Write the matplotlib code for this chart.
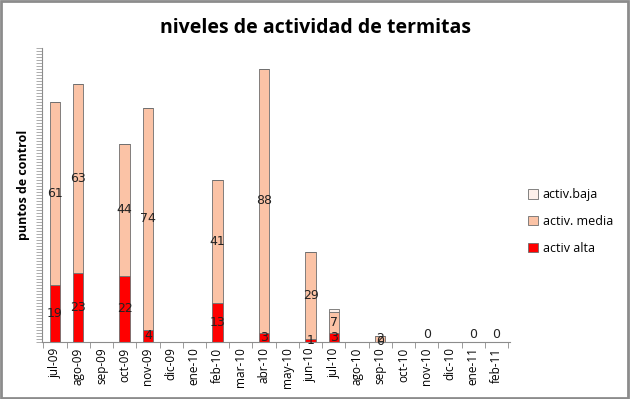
import numpy as np
import matplotlib
matplotlib.use("Agg")
import matplotlib.pyplot as plt
from matplotlib.patches import Rectangle

meses = ['jul-09', 'ago-09', 'sep-09', 'oct-09', 'nov-09', 'dic-09', 'ene-10',
         'feb-10', 'mar-10', 'abr-10', 'may-10', 'jun-10', 'jul-10', 'ago-10',
         'sep-10', 'oct-10', 'nov-10', 'dic-10', 'ene-11', 'feb-11']
nan = np.nan
alta = [19, 23, nan, 22, 4, nan, nan, 13, nan, 3, nan, 1, 3, nan,
        0, nan, nan, nan, nan, nan]
media = [61, 63, nan, 44, 74, nan, nan, 41, nan, 88, nan, 29, 7, nan,
         2, nan, nan, nan, nan, nan]
baja = [nan, nan, nan, nan, nan, nan, nan, nan, nan, nan, nan, nan, 1, nan,
        nan, nan, 0, nan, 0, 0]

plt.rcParams['font.family'] = ['Open Sans', 'DejaVu Sans']

fig = plt.figure(figsize=(6.3, 3.99), dpi=100)
ax = fig.add_axes([0.067, 0.143, 0.743, 0.737])

x = np.arange(len(meses))
a = np.nan_to_num(alta)
m = np.nan_to_num(media)
b = np.nan_to_num(baja)
w = 0.45
ec = '#6e6e6e'
b1 = ax.bar(x, a, w, color='#ff0000', edgecolor=ec, linewidth=0.6, label='activ alta')
b2 = ax.bar(x, m, w, bottom=a, color='#fbc3a6', edgecolor=ec, linewidth=0.6, label='activ. media')
b3 = ax.bar(x, b, w, bottom=a + m, color='#fdf0ea', edgecolor=ec, linewidth=0.6, label='activ.baja')

# data labels, centred in each segment
for vals, base in [(alta, np.zeros(len(x))), (media, a)]:
    for i, v in enumerate(vals):
        if not np.isnan(v):
            ax.text(x[i], base[i] + v / 2, f'{int(v)}', ha='center', va='center',
                    fontsize=9, color='#222222', family='DejaVu Sans')
for i, v in enumerate(baja):
    if v == 0:
        ax.text(x[i], 0.3, '0', ha='center', va='bottom', fontsize=9,
                color='#222222', family='DejaVu Sans')

ax.set_xlim(-0.55, len(meses) - 0.4)
ax.set_ylim(0, 98)
ax.set_xticks(x)
ax.set_xticklabels(meses, rotation=90, fontsize=8.5)
ax.set_xticks(np.arange(-0.5, len(meses), 1), minor=True)
ax.tick_params(axis='x', which='major', length=0, pad=4)
ax.tick_params(axis='x', which='minor', length=4, color='#8c8c8c')
ax.set_yticks(np.arange(0, 99, 1))
ax.set_yticklabels([])
ax.tick_params(axis='y', length=4, width=0.5, color='#8c8c8c')
for s in ['top', 'right']:
    ax.spines[s].set_visible(False)
for s in ['left', 'bottom']:
    ax.spines[s].set_color('#8c8c8c')

ax.set_ylabel('puntos de control', fontsize=9, fontweight='bold',
              family=['Liberation Sans Narrow', 'Open Sans'])
ax.yaxis.set_label_coords(-0.026, 0.534)
fig.suptitle('niveles de actividad de termitas', fontsize=14, fontweight='bold', y=0.955)

fig.legend(handles=[b3, b2, b1], loc='center left', bbox_to_anchor=(0.82, 0.445),
           frameon=False, fontsize=9, handlelength=0.8, handleheight=0.8,
           labelspacing=1.1, handletextpad=0.4)

fig.patches.append(Rectangle((0.002, 0.003), 0.995, 0.994, transform=fig.transFigure,
                             fill=False, edgecolor='#8c8c8c', linewidth=2))

fig.savefig('out.png', dpi=100)
